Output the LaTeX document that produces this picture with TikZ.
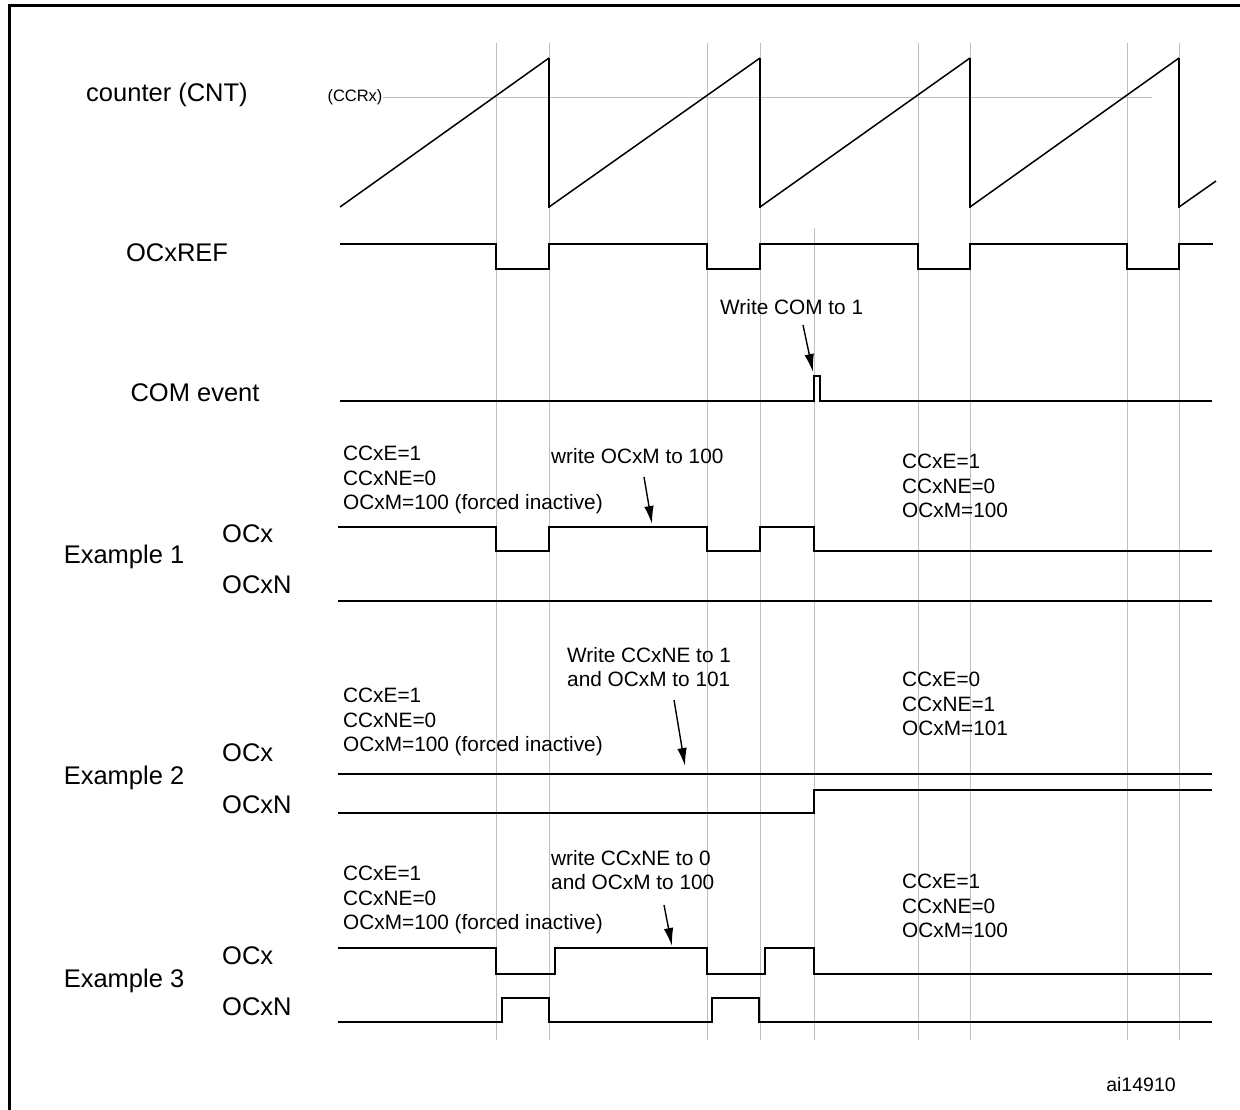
\documentclass[tikz,border=0pt]{standalone}
\usepackage{fontspec}
\setmainfont{Liberation Sans}
\usetikzlibrary{arrows.meta}
\begin{document}
\begin{tikzpicture}[x=1pt,y=-1pt,>={Latex[length=18pt,width=9.5pt]},
      main label/.style={font=\fontsize{25.5}{30}\selectfont,inner sep=0pt},
      note/.style={font=\fontsize{20.8}{24.5}\selectfont,inner sep=0pt,align=left,anchor=west},
      sig line/.style={line width=2.2pt},
      ramp line/.style={line width=1.5pt},
      grid line/.style={black!25,line width=1pt},
      note arrow/.style={->,line width=1.4pt}]
    \useasboundingbox (0,0) rectangle (1240,1109);
    \draw[line width=3pt] (9,1115) -- (9,5) -- (1250,5);
    \foreach \x in {496,549,707,760,918,970,1127,1179}
      \draw[grid line] (\x,43) -- (\x,1040);
    \draw[grid line] (814,228) -- (814,1040);

    \node[main label] (cnt) at (167,95) {counter (CNT)};
    \node[main label] (ref) at (177,253) {OCxREF};
    \node[main label] (com) at (195,393) {COM event};
    \node[main label] (ex1) at (124,557) {Example 1};
    \node[main label,anchor=west] (ocx1) at (222,534) {OCx};
    \node[main label,anchor=west] (ocxn1) at (222,585) {OCxN};
    \node[main label] (ex2) at (124,778) {Example 2};
    \node[main label,anchor=west] (ocx2) at (222,753) {OCx};
    \node[main label,anchor=west] (ocxn2) at (222,805) {OCxN};
    \node[main label] (ex3) at (124,981) {Example 3};
    \node[main label,anchor=west] (ocx3) at (222,956) {OCx};
    \node[main label,anchor=west] (ocxn3) at (222,1007) {OCxN};

    \node[font=\fontsize{16.5}{18}\selectfont,inner sep=0pt] (ccrx) at (355,97) {(CCRx)};
    \draw[grid line] (ccrx.east) -- (1152,97);
    \draw[ramp line] (340,207) -- (549,58) (549,207) -- (760,58) (760,207) -- (970,58)
      (970,207) -- (1179,58) (1179,207) -- (1216,181);
    \foreach \x in {549,760,970,1179}
      \draw[sig line] (\x,58) -- (\x,208);

    \draw[sig line] (340,244) -| (496,269) -| (549,244) -| (707,269) -| (760,244) -| (918,269)
      -| (970,244) -| (1127,269) -| (1179,244) -- (1213,244);
    \draw[sig line] (340,401) -| (814,376) -| (820,401) -- (1212,401);

    \draw[sig line] (338,527) -| (496,551) -| (549,527) -| (707,551) -| (760,527) -| (814,551) -- (1212,551);
    \draw[sig line] (338,601) -- (1212,601);
    \draw[sig line] (338,774) -- (1212,774);
    \draw[sig line] (338,813) -| (814,790) -- (1212,790);
    \draw[sig line] (338,948) -| (496,974) -| (555,948) -| (707,974) -| (765,948) -| (814,974) -- (1212,974);
    \draw[sig line] (338,1022) -| (502,998) -| (549,1022) -| (712,998) -| (759,1022) -- (1212,1022);

    \node[note] (wcom) at (720,307) {Write COM to 1};
    \node[note] (cfg1) at (343,480) {CCxE=1\\CCxNE=0\\OCxM=100 (forced inactive)};
    \node[note] (wr1) at (551,456) {write OCxM to 100};
    \node[note] (new1) at (902,486) {CCxE=1\\CCxNE=0\\OCxM=100};
    \node[note] (cfg2) at (343,722) {CCxE=1\\CCxNE=0\\OCxM=100 (forced inactive)};
    \node[note] (wr2) at (567,667) {Write CCxNE to 1\\and OCxM to 101};
    \node[note] (new2) at (902,704) {CCxE=0\\CCxNE=1\\OCxM=101};
    \node[note] (cfg3) at (343,900) {CCxE=1\\CCxNE=0\\OCxM=100 (forced inactive)};
    \node[note] (wr3) at (551,870) {write CCxNE to 0\\and OCxM to 100};
    \node[note] (new3) at (902,906) {CCxE=1\\CCxNE=0\\OCxM=100};
    \node[font=\fontsize{19.5}{22}\selectfont,inner sep=0pt] (fig) at (1141,1085) {ai14910};

    \coordinate (tipc) at (813,372);
    \coordinate (tip1) at (652,524);
    \coordinate (tip2) at (685,766);
    \coordinate (tip3) at (672,946);
    \draw[note arrow] (803,325) -- (tipc);
    \draw[note arrow] (644,477) -- (tip1);
    \draw[note arrow] (674,700) -- (tip2);
    \draw[note arrow] (664,905) -- (tip3);
  \end{tikzpicture}
\end{document}
